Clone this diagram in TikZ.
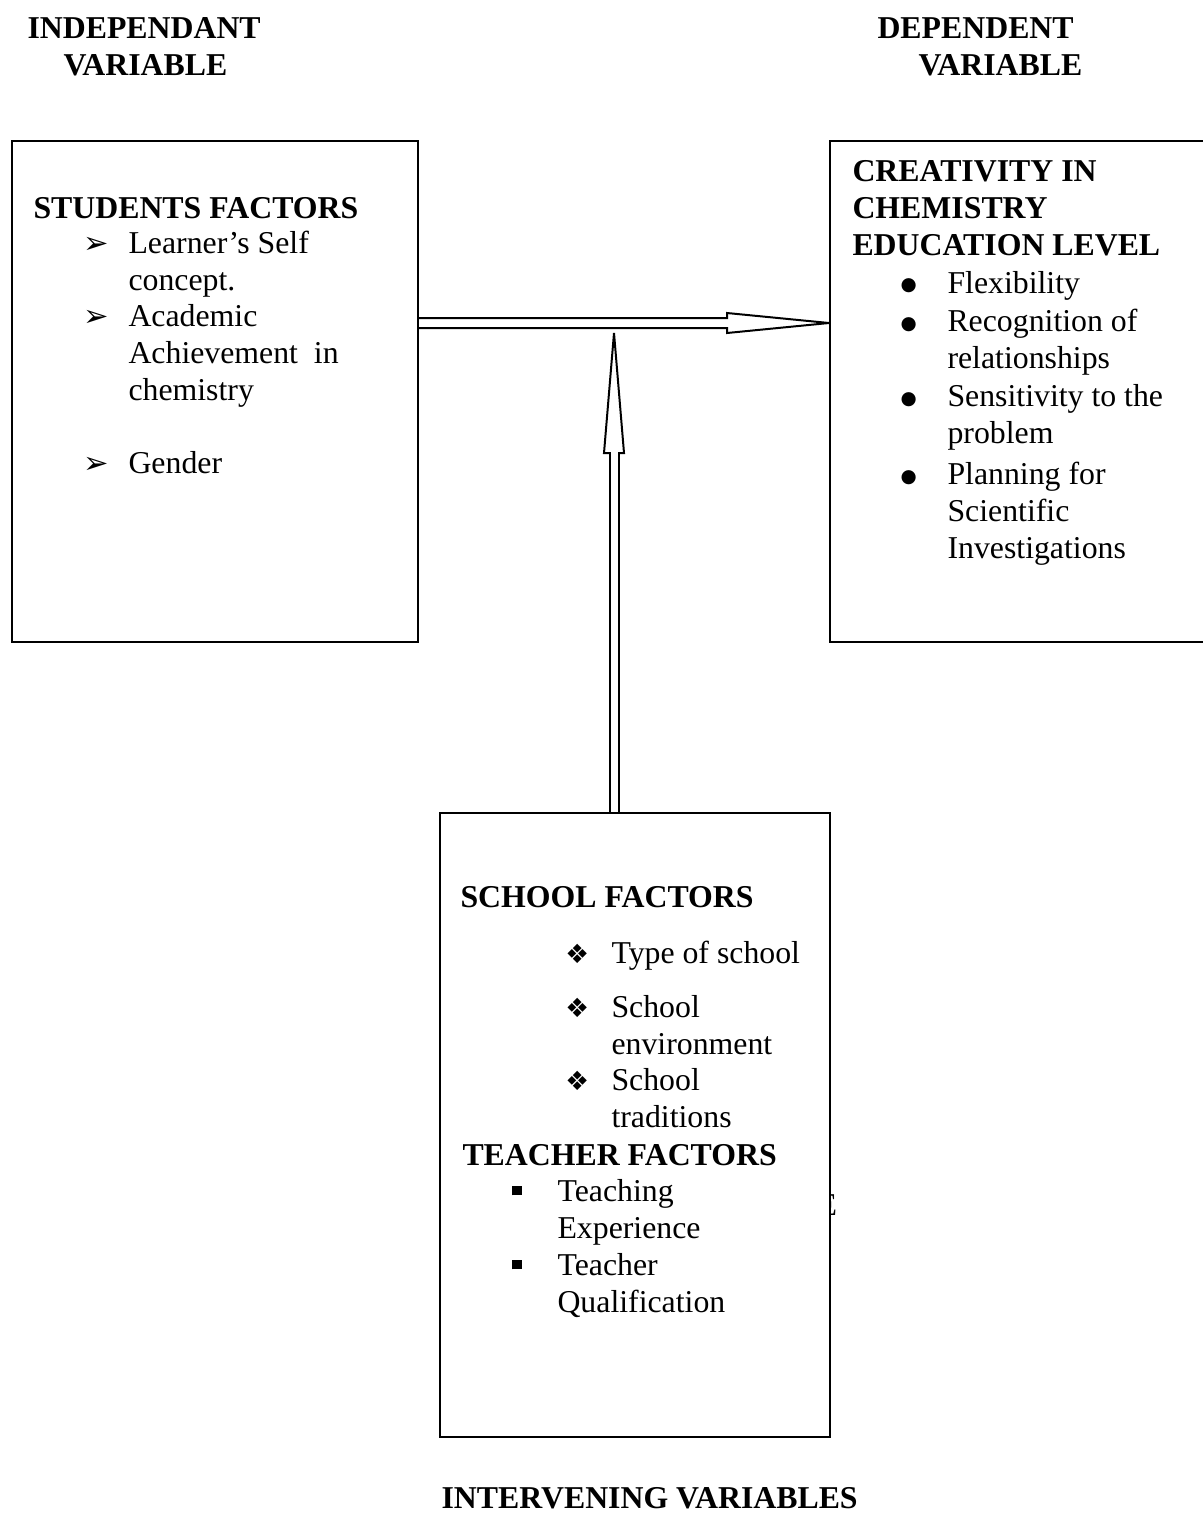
\documentclass[tikz,border=0pt]{standalone}
\usepackage{fontspec}
\setmainfont{Liberation Serif}
\newfontfamily\dingfont{DejaVu Sans}
\usepackage{tikz}
\usetikzlibrary{fit, positioning}
\newcommand{\arrowbul}{\leavevmode\llap{\makebox[17pt][l]{\dingfont\fontsize{11.5pt}{11.5pt}\selectfont ➢}}}
\newcommand{\diabul}{\leavevmode\llap{\makebox[17.4pt][l]{\dingfont\fontsize{10pt}{10pt}\selectfont ❖}}}
\newcommand{\sqbul}{\leavevmode\llap{\makebox[17pt][l]{\rule[2.3pt]{3.6pt}{3.6pt}}}}
\newcommand{\dotbul}{\leavevmode\llap{\makebox[17.7pt][l]{\raisebox{0.9pt}{\dingfont\fontsize{7pt}{7pt}\selectfont ●}}}}
\tikzstyle{frame} = [rectangle, draw=black, line width=0.75pt, inner sep=0pt,
    fill=white]
\tikzstyle{heading} = [anchor=base west, inner sep=0pt,
    font=\fontsize{12pt}{13.8pt}\selectfont\bfseries]
\tikzstyle{entry} = [anchor=base west, inner sep=0pt, align=left,
    font=\fontsize{12pt}{13.8pt}\selectfont]
\tikzstyle{blockarrow} = [line width=0.75pt, line join=miter]

\begin{document}
\begin{tikzpicture}[x=0.3774pt, y=-0.3774pt]
            \useasboundingbox (0,0) rectangle (1203,1515);
            % Titles
            \node[heading] (indep) at (27,38) {INDEPENDANT};
            \node[heading] (indepv) at (63,75) {VARIABLE};
            \node[heading] (dep) at (877,38) {DEPENDENT};
            \node[heading] (depv) at (918,75) {VARIABLE};
            \node[heading] (interv) at (441,1508) {INTERVENING VARIABLES};
            % Boxes
            \node[frame, fit={(12,141) (418,642)}] (stud) {};
            \node[frame, fit={(830,141) (1225,642)}] (crea) {};
            \node[entry] (stray) at (817,1215) {E};
            \node[frame, fit={(440,813) (830,1437)}] (schl) {};
            % Students factors (multi-line nodes sit on their last baseline)
            \node[heading] (studh) at (33,218) {STUDENTS FACTORS};
            \node[entry] (s1) at (128,290) {\arrowbul Learner’s Self\\concept.};
            \node[entry] (s2) at (128,400) {\arrowbul Academic\\Achievement\ \ in\\chemistry};
            \node[entry] (s3) at (128,473) {\arrowbul Gender};
            % Creativity
            \node[heading, align=left] (creah) at (852,255) {CREATIVITY IN\\CHEMISTRY\\EDUCATION LEVEL};
            \node[entry] (c1) at (947,293) {\dotbul Flexibility};
            \node[entry] (c2) at (947,368) {\dotbul Recognition of\\relationships};
            \node[entry] (c3) at (947,443) {\dotbul Sensitivity to the\\problem};
            \node[entry] (c4) at (947,558) {\dotbul Planning for\\Scientific\\Investigations};
            % School and teacher factors
            \node[heading] (schlh) at (460,907) {SCHOOL FACTORS};
            \node[entry] (f1) at (611,963) {\diabul Type of school};
            \node[entry] (f2) at (611,1054) {\diabul School\\environment};
            \node[entry] (f3) at (611,1127) {\diabul School\\traditions};
            \node[heading] (teah) at (462,1165) {TEACHER FACTORS};
            \node[entry] (t1) at (557,1238) {\sqbul Teaching\\Experience};
            \node[entry] (t2) at (557,1312) {\sqbul Teacher\\Qualification};
            % Arrows
            \coordinate (hbase) at (727,323);
            \coordinate (vbase) at (614,453);
            \coordinate (vtip) at (614,333);
            \draw[blockarrow] (stud.east |- 0,318) -- (hbase |- 0,318)
            -- (hbase |- 0,313) -- (crea.west |- hbase) -- (hbase |- 0,333)
            -- (hbase |- 0,328) -- (stud.east |- 0,328);
            \draw[blockarrow] (schl.north -| 610,0) -- (vbase -| 610,0)
            -- (vbase -| 604,0) -- (vtip) -- (vbase -| 624,0)
            -- (vbase -| 619,0) -- (schl.north -| 619,0);

        \end{tikzpicture}
\end{document}
